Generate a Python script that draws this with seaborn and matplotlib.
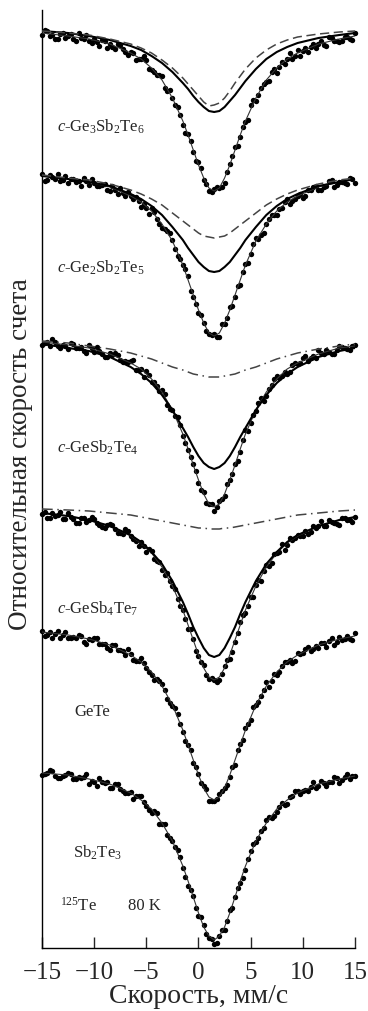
import numpy as np
import pandas as pd
import matplotlib
matplotlib.use("Agg")
import matplotlib.pyplot as plt
import seaborn as sns

# ---------------------------------------------------------------- data
# velocity channels of the measured spectra, mm/s (two interleaved sweeps)
velocity_a = np.linspace(-15, 15, 61)
velocity_b = np.linspace(-14.75, 14.75, 60)
# velocity points at which the fitted curves are given, mm/s
fit_velocity = [-15, -12.5, -10.5, -8.5, -6.5, -5.5, -4.5, -3.5, -2.5, -1.5,
                -1, -0.5, 0, 0.5, 1, 1.5, 2, 2.5, 3, 3.5,
                4, 4.5, 5.5, 6.5, 7.5, 8.5, 9.5, 11.5, 13.5, 15]

labels = [r"$\mathit{c}$-Ge$_3$Sb$_2$Te$_6$", r"$\mathit{c}$-Ge$_2$Sb$_2$Te$_5$",
          r"$\mathit{c}$-GeSb$_2$Te$_4$", r"$\mathit{c}$-GeSb$_4$Te$_7$",
          "GeTe", r"Sb$_2$Te$_3$"]

# relative count rate (1 = far baseline), sweep A
ge3sb2te6_a = [0.991, 0.995, 0.991, 0.987, 0.993, 0.990, 0.987, 0.993, 0.987, 0.985,
               0.987, 0.980, 0.985, 0.982, 0.977, 0.981, 0.974, 0.974, 0.966, 0.967,
               0.966, 0.956, 0.951, 0.950, 0.935, 0.928, 0.919, 0.901, 0.892, 0.874,
               0.864, 0.846, 0.835, 0.837, 0.838, 0.843, 0.862, 0.879, 0.889, 0.904,
               0.921, 0.925, 0.938, 0.944, 0.954, 0.953, 0.964, 0.967, 0.967, 0.976,
               0.975, 0.974, 0.982, 0.982, 0.981, 0.989, 0.985, 0.984, 0.989, 0.987,
               0.993]
ge2sb2te5_a = [0.995, 0.989, 0.992, 0.995, 0.989, 0.986, 0.990, 0.988, 0.991, 0.984,
               0.986, 0.983, 0.985, 0.978, 0.979, 0.981, 0.973, 0.973, 0.972, 0.962,
               0.961, 0.961, 0.950, 0.941, 0.938, 0.929, 0.913, 0.904, 0.893, 0.872,
               0.856, 0.846, 0.835, 0.835, 0.832, 0.845, 0.862, 0.872, 0.884, 0.905,
               0.915, 0.931, 0.934, 0.945, 0.954, 0.954, 0.961, 0.970, 0.968, 0.973,
               0.971, 0.979, 0.982, 0.979, 0.982, 0.988, 0.982, 0.987, 0.986, 0.991,
               0.986]
gesb2te4_a = [0.990, 0.993, 0.996, 0.989, 0.990, 0.986, 0.991, 0.987, 0.984, 0.990,
              0.983, 0.984, 0.978, 0.982, 0.982, 0.975, 0.974, 0.974, 0.965, 0.966,
              0.964, 0.953, 0.949, 0.945, 0.930, 0.925, 0.918, 0.899, 0.885, 0.871,
              0.852, 0.843, 0.831, 0.824, 0.834, 0.839, 0.855, 0.871, 0.883, 0.905,
              0.912, 0.924, 0.937, 0.939, 0.950, 0.959, 0.959, 0.961, 0.970, 0.971,
              0.977, 0.974, 0.979, 0.985, 0.981, 0.983, 0.981, 0.989, 0.987, 0.985,
              0.990]
gesb4te7_a = [0.991, 0.987, 0.992, 0.990, 0.986, 0.992, 0.986, 0.982, 0.987, 0.985,
              0.986, 0.980, 0.977, 0.981, 0.976, 0.972, 0.976, 0.969, 0.964, 0.963,
              0.953, 0.954, 0.944, 0.935, 0.932, 0.919, 0.906, 0.895, 0.876, 0.866,
              0.849, 0.840, 0.826, 0.825, 0.825, 0.839, 0.846, 0.863, 0.883, 0.892,
              0.908, 0.920, 0.924, 0.940, 0.942, 0.952, 0.961, 0.960, 0.965, 0.970,
              0.969, 0.971, 0.979, 0.979, 0.979, 0.985, 0.982, 0.980, 0.987, 0.985,
              0.988]
gete_a = [0.993, 0.989, 0.986, 0.993, 0.989, 0.986, 0.987, 0.989, 0.982, 0.985,
          0.986, 0.980, 0.980, 0.974, 0.979, 0.974, 0.969, 0.970, 0.963, 0.966,
          0.956, 0.949, 0.945, 0.940, 0.925, 0.918, 0.910, 0.892, 0.879, 0.861,
          0.850, 0.838, 0.823, 0.823, 0.830, 0.836, 0.847, 0.859, 0.880, 0.896,
          0.904, 0.919, 0.928, 0.942, 0.943, 0.949, 0.958, 0.962, 0.961, 0.971,
          0.971, 0.977, 0.975, 0.976, 0.981, 0.983, 0.979, 0.987, 0.985, 0.985,
          0.991]
sb2te3_a = [0.990, 0.992, 0.994, 0.987, 0.989, 0.992, 0.986, 0.988, 0.988, 0.981,
            0.983, 0.987, 0.982, 0.977, 0.981, 0.976, 0.972, 0.973, 0.969, 0.969,
            0.959, 0.952, 0.952, 0.941, 0.930, 0.924, 0.915, 0.897, 0.879, 0.869,
            0.849, 0.840, 0.827, 0.821, 0.829, 0.835, 0.855, 0.868, 0.882, 0.895,
            0.914, 0.923, 0.934, 0.945, 0.947, 0.953, 0.962, 0.961, 0.969, 0.974,
            0.974, 0.974, 0.983, 0.979, 0.982, 0.983, 0.988, 0.982, 0.988, 0.986,
            0.989]

# sweep B
ge3sb2te6_b = [0.996, 0.990, 0.987, 0.992, 0.988, 0.992, 0.985, 0.988, 0.991, 0.983,
               0.984, 0.986, 0.978, 0.979, 0.982, 0.977, 0.971, 0.973, 0.967, 0.970,
               0.957, 0.954, 0.951, 0.938, 0.936, 0.921, 0.911, 0.893, 0.885, 0.865,
               0.858, 0.842, 0.834, 0.839, 0.839, 0.854, 0.870, 0.880, 0.899, 0.906,
               0.926, 0.931, 0.942, 0.945, 0.957, 0.959, 0.962, 0.973, 0.970, 0.970,
               0.978, 0.979, 0.978, 0.985, 0.980, 0.988, 0.985, 0.985, 0.989, 0.986]
ge2sb2te5_b = [0.988, 0.994, 0.990, 0.988, 0.993, 0.990, 0.987, 0.983, 0.988, 0.990,
               0.983, 0.984, 0.979, 0.983, 0.975, 0.976, 0.977, 0.970, 0.968, 0.965,
               0.955, 0.957, 0.945, 0.940, 0.936, 0.920, 0.910, 0.900, 0.878, 0.865,
               0.854, 0.838, 0.834, 0.832, 0.845, 0.851, 0.863, 0.883, 0.897, 0.906,
               0.925, 0.930, 0.936, 0.950, 0.954, 0.960, 0.967, 0.965, 0.970, 0.975,
               0.973, 0.979, 0.983, 0.979, 0.983, 0.989, 0.984, 0.987, 0.985, 0.990]
gesb2te4_b = [0.992, 0.989, 0.993, 0.987, 0.989, 0.992, 0.987, 0.988, 0.982, 0.987,
              0.988, 0.981, 0.978, 0.980, 0.980, 0.973, 0.973, 0.975, 0.965, 0.958,
              0.960, 0.953, 0.944, 0.941, 0.926, 0.919, 0.910, 0.892, 0.878, 0.864,
              0.845, 0.832, 0.831, 0.828, 0.836, 0.851, 0.861, 0.874, 0.895, 0.904,
              0.920, 0.932, 0.934, 0.946, 0.956, 0.957, 0.963, 0.963, 0.972, 0.972,
              0.979, 0.977, 0.977, 0.982, 0.985, 0.981, 0.985, 0.988, 0.986, 0.989]
gesb4te7_b = [0.993, 0.987, 0.989, 0.993, 0.986, 0.988, 0.982, 0.987, 0.983, 0.988,
              0.982, 0.978, 0.980, 0.980, 0.972, 0.971, 0.974, 0.966, 0.959, 0.959,
              0.956, 0.946, 0.943, 0.930, 0.924, 0.916, 0.899, 0.886, 0.876, 0.854,
              0.843, 0.830, 0.827, 0.823, 0.831, 0.845, 0.853, 0.872, 0.890, 0.899,
              0.908, 0.925, 0.934, 0.939, 0.951, 0.953, 0.955, 0.967, 0.967, 0.969,
              0.974, 0.973, 0.977, 0.984, 0.979, 0.983, 0.981, 0.987, 0.985, 0.983]
gete_b = [0.988, 0.992, 0.990, 0.986, 0.992, 0.986, 0.986, 0.988, 0.980, 0.984,
          0.986, 0.980, 0.976, 0.979, 0.974, 0.973, 0.975, 0.964, 0.963, 0.961,
          0.952, 0.944, 0.943, 0.934, 0.921, 0.916, 0.900, 0.883, 0.874, 0.857,
          0.841, 0.835, 0.823, 0.825, 0.833, 0.839, 0.857, 0.874, 0.884, 0.900,
          0.917, 0.922, 0.934, 0.937, 0.950, 0.952, 0.962, 0.964, 0.963, 0.970,
          0.975, 0.973, 0.978, 0.981, 0.977, 0.986, 0.982, 0.984, 0.988, 0.984]
sb2te3_b = [0.991, 0.995, 0.989, 0.987, 0.990, 0.991, 0.986, 0.987, 0.991, 0.984,
            0.979, 0.983, 0.983, 0.977, 0.981, 0.974, 0.972, 0.966, 0.969, 0.963,
            0.955, 0.954, 0.941, 0.941, 0.927, 0.918, 0.908, 0.888, 0.875, 0.857,
            0.848, 0.831, 0.826, 0.822, 0.835, 0.844, 0.857, 0.877, 0.887, 0.906,
            0.921, 0.927, 0.937, 0.948, 0.949, 0.958, 0.960, 0.968, 0.974, 0.971,
            0.975, 0.978, 0.977, 0.984, 0.979, 0.983, 0.987, 0.985, 0.991, 0.989]

# fitted envelopes (thin line through the points)
ge3sb2te6_fit = [0.993, 0.990, 0.987, 0.982, 0.973, 0.967, 0.958, 0.946, 0.928, 0.905,
                 0.891, 0.876, 0.861, 0.848, 0.838, 0.835, 0.838, 0.848, 0.861, 0.876,
                 0.891, 0.905, 0.928, 0.946, 0.958, 0.967, 0.973, 0.982, 0.987, 0.990]
ge2sb2te5_fit = [0.993, 0.990, 0.987, 0.982, 0.973, 0.967, 0.958, 0.945, 0.928, 0.904,
                 0.889, 0.874, 0.859, 0.846, 0.836, 0.833, 0.836, 0.846, 0.859, 0.874,
                 0.889, 0.904, 0.928, 0.945, 0.958, 0.967, 0.973, 0.982, 0.987, 0.990]
gesb2te4_fit = [0.993, 0.990, 0.987, 0.981, 0.972, 0.966, 0.956, 0.943, 0.925, 0.901,
                0.886, 0.870, 0.855, 0.841, 0.831, 0.828, 0.831, 0.841, 0.855, 0.870,
                0.886, 0.901, 0.925, 0.943, 0.956, 0.966, 0.972, 0.981, 0.987, 0.989]
gesb4te7_fit = [0.992, 0.989, 0.985, 0.979, 0.969, 0.962, 0.952, 0.938, 0.919, 0.895,
                0.880, 0.865, 0.850, 0.837, 0.828, 0.825, 0.828, 0.837, 0.850, 0.865,
                0.880, 0.895, 0.919, 0.938, 0.952, 0.962, 0.969, 0.979, 0.985, 0.988]
gete_fit = [0.992, 0.989, 0.985, 0.979, 0.969, 0.962, 0.952, 0.938, 0.919, 0.894,
            0.879, 0.864, 0.849, 0.836, 0.827, 0.824, 0.827, 0.836, 0.849, 0.864,
            0.879, 0.894, 0.919, 0.938, 0.952, 0.962, 0.969, 0.979, 0.985, 0.988]
sb2te3_fit = [0.992, 0.990, 0.986, 0.981, 0.972, 0.965, 0.956, 0.942, 0.924, 0.899,
              0.884, 0.868, 0.852, 0.838, 0.829, 0.825, 0.829, 0.838, 0.852, 0.868,
              0.884, 0.899, 0.924, 0.942, 0.956, 0.965, 0.972, 0.981, 0.986, 0.989]

# sub-spectra: main component (solid) and second component (dashed)
ge3sb2te6_solid = [0.995, 0.993, 0.990, 0.986, 0.980, 0.976, 0.970, 0.963, 0.954, 0.943,
                   0.937, 0.930, 0.924, 0.919, 0.915, 0.914, 0.915, 0.919, 0.925, 0.931,
                   0.938, 0.945, 0.957, 0.967, 0.974, 0.979, 0.983, 0.988, 0.991, 0.993]
ge3sb2te6_dash = [0.995, 0.993, 0.991, 0.987, 0.982, 0.978, 0.973, 0.966, 0.958, 0.948,
                  0.942, 0.936, 0.930, 0.924, 0.920, 0.921, 0.923, 0.928, 0.935, 0.943,
                  0.950, 0.957, 0.968, 0.976, 0.982, 0.986, 0.989, 0.992, 0.994, 0.995]
ge2sb2te5_solid = [0.993, 0.990, 0.987, 0.983, 0.975, 0.970, 0.963, 0.954, 0.942, 0.929,
                   0.921, 0.914, 0.907, 0.902, 0.898, 0.897, 0.898, 0.902, 0.907, 0.914,
                   0.921, 0.929, 0.942, 0.954, 0.963, 0.970, 0.975, 0.983, 0.987, 0.990]
ge2sb2te5_dash = [0.994, 0.991, 0.989, 0.985, 0.979, 0.975, 0.970, 0.964, 0.956, 0.948,
                  0.944, 0.940, 0.936, 0.933, 0.932, 0.931, 0.932, 0.933, 0.936, 0.940,
                  0.944, 0.948, 0.956, 0.964, 0.970, 0.975, 0.979, 0.985, 0.989, 0.991]
gesb2te4_solid = [0.991, 0.987, 0.984, 0.978, 0.968, 0.961, 0.952, 0.940, 0.925, 0.907,
                  0.898, 0.888, 0.879, 0.872, 0.868, 0.866, 0.868, 0.872, 0.879, 0.888,
                  0.898, 0.907, 0.925, 0.940, 0.952, 0.961, 0.968, 0.978, 0.984, 0.987]
gesb2te4_dash = [0.994, 0.992, 0.989, 0.986, 0.982, 0.979, 0.976, 0.972, 0.968, 0.965,
                 0.963, 0.961, 0.960, 0.959, 0.958, 0.958, 0.958, 0.959, 0.960, 0.961,
                 0.963, 0.965, 0.968, 0.972, 0.976, 0.979, 0.982, 0.986, 0.989, 0.991]
gesb4te7_solid = [0.992, 0.989, 0.985, 0.979, 0.970, 0.963, 0.953, 0.941, 0.924, 0.903,
                  0.891, 0.878, 0.867, 0.857, 0.850, 0.848, 0.850, 0.857, 0.867, 0.878,
                  0.891, 0.903, 0.924, 0.941, 0.953, 0.963, 0.970, 0.979, 0.985, 0.988]
gesb4te7_dash = [0.996, 0.995, 0.994, 0.992, 0.990, 0.988, 0.986, 0.984, 0.982, 0.980,
                 0.979, 0.978, 0.977, 0.977, 0.976, 0.976, 0.976, 0.977, 0.977, 0.978,
                 0.979, 0.980, 0.982, 0.984, 0.986, 0.988, 0.990, 0.992, 0.994, 0.995]

sweep_a = [ge3sb2te6_a, ge2sb2te5_a, gesb2te4_a, gesb4te7_a, gete_a, sb2te3_a]
sweep_b = [ge3sb2te6_b, ge2sb2te5_b, gesb2te4_b, gesb4te7_b, gete_b, sb2te3_b]
fits = [ge3sb2te6_fit, ge2sb2te5_fit, gesb2te4_fit, gesb4te7_fit, gete_fit, sb2te3_fit]
solid_parts = [ge3sb2te6_solid, ge2sb2te5_solid, gesb2te4_solid, gesb4te7_solid, None, None]
dash_parts = [ge3sb2te6_dash, ge2sb2te5_dash, gesb2te4_dash, gesb4te7_dash, None, None]

# ---------------------------------------------------------------- layout
stack_shift = [0.0, -0.143, -0.309, -0.479, -0.598, -0.739]
dash_styles = [(0, (6, 3)), (0, (6, 3)), (0, (7, 3, 1, 3)), (0, (7, 3, 1, 3)), None, None]
label_pos = [(0.048, 0.875), (0.048, 0.725), (0.048, 0.533), (0.048, 0.362),
             (0.105, 0.252), (0.099, 0.101)]

sns.set_style("ticks")
plt.rcParams["font.family"] = ["Liberation Serif", "DejaVu Serif"]
plt.rcParams["mathtext.fontset"] = "custom"
plt.rcParams["mathtext.rm"] = "Liberation Serif"
plt.rcParams["mathtext.it"] = "Liberation Serif:italic"

fig = plt.figure(figsize=(3.68, 10.11), dpi=100)
ax = fig.add_axes([42 / 368, 1 - 948 / 1011, 313 / 368, 938 / 1011])

for k in range(6):
    shift = stack_shift[k]
    pts = pd.DataFrame({
        "v": np.concatenate([velocity_a, velocity_b]),
        "c": np.concatenate([sweep_a[k], sweep_b[k]]) + shift,
    })
    sns.scatterplot(data=pts, x="v", y="c", ax=ax, color="black", s=15,
                    linewidth=0, clip_on=False, zorder=2)
    fit = pd.DataFrame({"v": fit_velocity, "c": np.array(fits[k]) + shift})
    sns.lineplot(data=fit, x="v", y="c", ax=ax, color="#333333", lw=0.8, zorder=3)
    if solid_parts[k] is not None:
        sol = pd.DataFrame({"v": fit_velocity, "c": np.array(solid_parts[k]) + shift})
        sns.lineplot(data=sol, x="v", y="c", ax=ax, color="black", lw=1.5, zorder=4)
        dsh = pd.DataFrame({"v": fit_velocity, "c": np.array(dash_parts[k]) + shift})
        sns.lineplot(data=dsh, x="v", y="c", ax=ax, color="#444444", lw=1.1,
                     linestyle=dash_styles[k], zorder=4)
    ax.text(label_pos[k][0], label_pos[k][1], labels[k], transform=ax.transAxes,
            fontsize=12, ha="left", va="center")

ax.text(0.058, 0.045, r"$^{125}$Te", transform=ax.transAxes, fontsize=12,
        ha="left", va="center")
ax.text(0.275, 0.045, "80 K", transform=ax.transAxes, fontsize=12,
        ha="left", va="center")

ax.set_xlim(-15, 15)
ax.set_ylim(0.078, 1.016)
ax.set_xticks([-15, -10, -5, 0, 5, 10, 15])
ax.set_yticks([])
ax.tick_params(axis="x", direction="in", length=8, width=1, labelsize=18, pad=10)
for side in ["top", "right"]:
    ax.spines[side].set_visible(False)
for side in ["left", "bottom"]:
    ax.spines[side].set_linewidth(1)
    ax.spines[side].set_color("black")

ax.set_xlabel("Скорость, мм/с", fontsize=20, labelpad=0)
ax.set_ylabel("Относительная скорость счета", fontsize=19.5)
ax.yaxis.set_label_coords(-0.028, 0.526)

fig.savefig("out.png", dpi=100)
